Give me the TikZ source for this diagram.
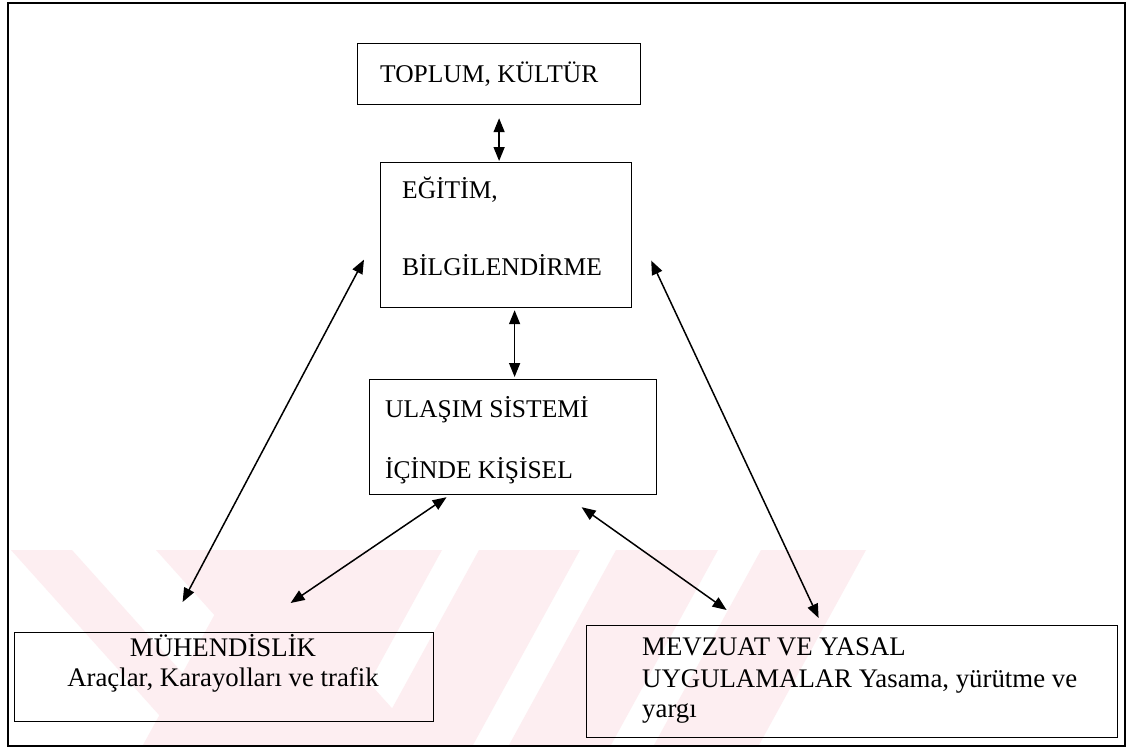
\documentclass[tikz,border=0pt]{standalone}
\usepackage{fontspec}
\setmainfont{Liberation Serif}
\usetikzlibrary{arrows.meta,calc}
\definecolor{wmpink}{RGB}{253,238,241}
\tikzset{
  boxnode/.style={draw=black, line width=1.2pt, inner sep=0pt, anchor=north west},
  arr/.style={{Triangle[length=14pt,width=11pt]}-{Triangle[length=14pt,width=11pt]}, line width=1.5pt},
  toptext/.style={inner sep=0pt, font=\fontsize{25.5}{30}\selectfont},
  bottext/.style={inner sep=0pt, font=\fontsize{26.8}{31}\selectfont}
}
\begin{document}
\begin{tikzpicture}[x=1pt,y=-1pt]
\useasboundingbox (0,0) rectangle (1131,747);
\fill[white] (0,0) rectangle (1131,747);
% watermark
\begin{scope}
\clip (5,550) rectangle (1124,745);
\fill[wmpink] (11,550) -- (72,550) -- (247,745) -- (186,745) -- cycle;
\fill[wmpink] (156,550) -- (250,550) -- (425,745) -- (331,745) -- cycle;
\fill[wmpink] (250,550) -- (442,550) -- (335,745) -- (143,745) -- cycle;
\fill[wmpink] (479,550) -- (580,550) -- (473,745) -- (372,745) -- cycle;
\fill[wmpink] (616,550) -- (718,550) -- (611,745) -- (509,745) -- cycle;
\fill[wmpink] (761,550) -- (866,550) -- (759,745) -- (654,745) -- cycle;
\end{scope}
% outer frame
\node[boxnode, line width=1.5pt, minimum width=1117pt, minimum height=743pt] (frame) at (7,2) {};
% boxes
\node[boxnode, minimum width=283pt, minimum height=61pt] (top) at (357,43) {};
\node[boxnode, minimum width=251pt, minimum height=145pt] (egt) at (380,162) {};
\node[boxnode, minimum width=287pt, minimum height=115pt] (ulas) at (369,379) {};
\node[boxnode, minimum width=419pt, minimum height=89pt] (muh) at (14,632) {};
\node[boxnode, minimum width=531pt, minimum height=112pt] (mev) at (586,625) {};
% texts
\node[toptext, anchor=base west] (t1) at (380,82) {TOPLUM, KÜLTÜR};
\node[toptext, anchor=base west] (t2) at (402,198) {EĞİTİM,};
\node[toptext, anchor=base west] (t3) at (402,275) {BİLGİLENDİRME};
\node[toptext, anchor=base west] (t4) at (385,417) {ULAŞIM SİSTEMİ};
\node[toptext, anchor=base west] (t5) at (385,478) {İÇİNDE KİŞİSEL};
\node[bottext, anchor=base] (t6) at (223,656) {MÜHENDİSLİK};
\node[bottext, anchor=base] (t7) at (223,686) {Araçlar, Karayolları ve trafik};
\node[bottext, anchor=base west] (t8) at (642,655) {MEVZUAT VE YASAL};
\node[bottext, anchor=base west] (t9) at (642,687) {UYGULAMALAR Yasama, yürütme ve};
\node[bottext, anchor=base west] (t10) at (642,717) {yargı};
% connectors
\draw[arr, shorten <=13pt, shorten >=1pt] (top.south) -- (top.south |- egt.north);
\draw[arr, shorten <=2pt, shorten >=2pt] ($(egt.south)+(8.5,0)$) -- (ulas.north -| {$(egt.south)+(8.5,0)$});
\draw[arr] ($(egt.west)+(-16,24.5)$) -- ($(muh.north)+(-41.5,-30)$);
\draw[arr] ($(ulas.south)+(-66.5,2)$) -- ($(muh.north)+(66.5,-29)$);
\draw[arr] ($(ulas.south)+(68.5,12)$) -- ($(mev.north)+(-125.5,-15)$);
\draw[arr] ($(egt.east)+(19,25.5)$) -- ($(mev.north)+(-33.5,-7)$);
\end{tikzpicture}
\end{document}
